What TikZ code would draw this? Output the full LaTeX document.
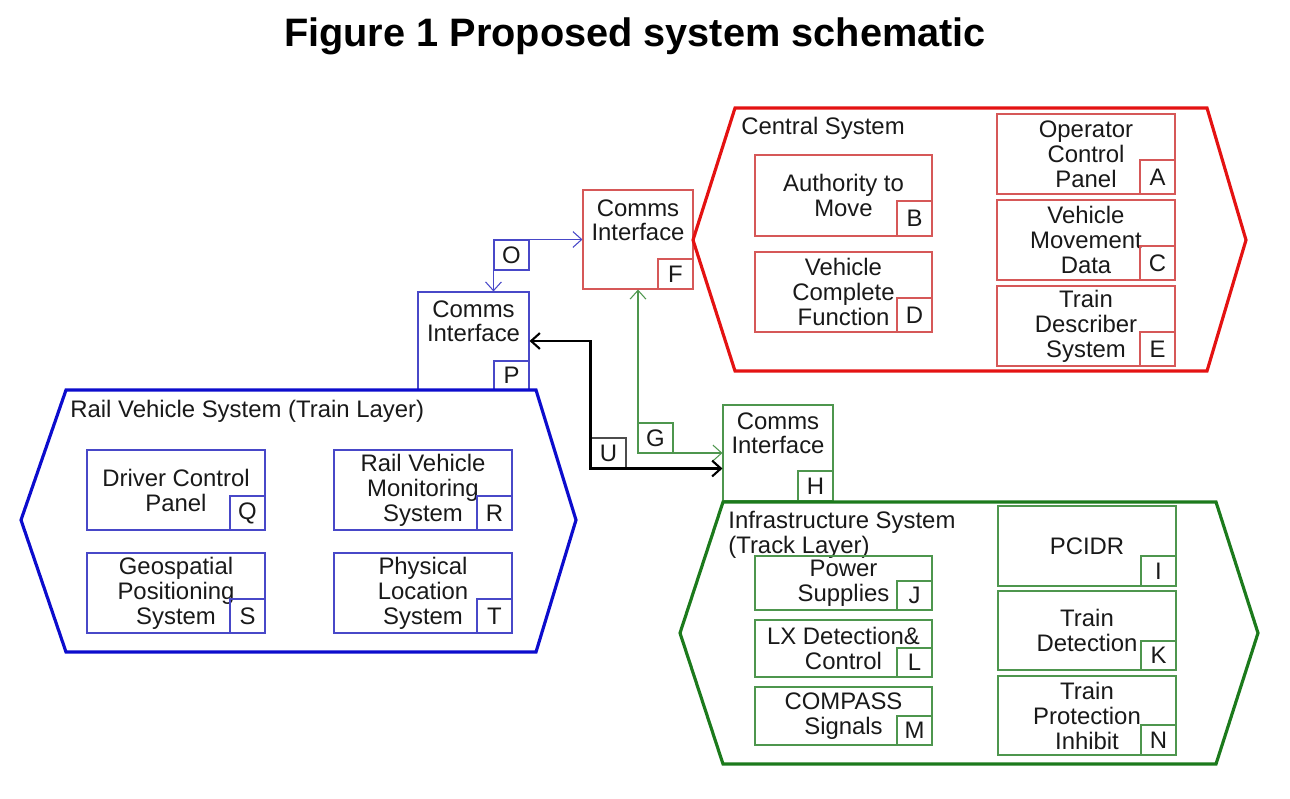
\documentclass[tikz,border=0pt]{standalone}
\usepackage{fontspec}
\setmainfont{Liberation Sans}
\usetikzlibrary{arrows.meta,fit}
\definecolor{txt}{RGB}{25,25,25}
\definecolor{redhex}{RGB}{228,18,18}
\definecolor{redbx}{RGB}{214,88,88}
\definecolor{bluehex}{RGB}{12,12,205}
\definecolor{bluebx}{RGB}{72,72,200}
\definecolor{greenhex}{RGB}{28,122,28}
\definecolor{greenbx}{RGB}{78,150,78}
\newcommand\bodyfont{\fontsize{13.6}{14.2}\selectfont}
\tikzset{
  bx/.style={draw, inner sep=0pt, line width=0.6pt},
  lbl/.style={font=\bodyfont, text=txt, inner sep=0pt, align=center},
  rbox/.style={bx, draw=redbx},
  bbox/.style={bx, draw=bluebx},
  gbox/.style={bx, draw=greenbx},
  hexred/.style={draw=redhex, line width=1.8pt, line join=miter},
  hexblue/.style={draw=bluehex, line width=1.8pt, line join=miter},
  hexgreen/.style={draw=greenhex, line width=1.8pt, line join=miter},
  ttl/.style={font=\bodyfont, text=txt, inner sep=0pt, align=left},
  commstext/.style={font=\bodyfont, text=txt, inner sep=0pt, align=center, anchor=north},
  tipc/.tip={Straight Barb[length=5pt,width=9pt]},
  conn/.style={line width=0.6pt, {tipc}-{tipc}},
}
\begin{document}
\begin{tikzpicture}[x=0.02cm,y=-0.02cm]
\useasboundingbox (0,0) rectangle (1290,798);

\node[font=\fontsize{22.6}{26}\selectfont\bfseries, text=black] (title) at (635,36) {Figure 1 Proposed system schematic};

% Comms interface boxes
\node[rbox, fit={(583,190)(693,289)}] (commsF) {};
\node[commstext] (tF) at (638,199) {Comms\\Interface};
\node[rbox, fit={(658,259)(693,289)}, label={[lbl]center:F}] (F) {};

\node[bbox, fit={(418,292)(529,390)}] (commsP) {};
\node[commstext] (tP) at (473.5,300) {Comms\\Interface};
\node[bbox, fit={(494,361)(529,390)}, label={[lbl]center:P}] (P) {};

\node[gbox, fit={(723,405)(833,501)}] (commsH) {};
\node[commstext] (tH) at (778,412) {Comms\\Interface};
\node[gbox, fit={(798,471)(833,501)}, label={[lbl]center:H}] (H) {};

% Hexagons
\draw[hexred] (693,240) -- (735,108) -- (1207,108) -- (1246,240) -- (1207,371) -- (735,371) -- cycle;
\draw[hexblue] (21,520) -- (66,390) -- (536,390) -- (576,520) -- (536,652) -- (66,652) -- cycle;
\draw[hexgreen] (680,633) -- (723,502) -- (1216,502) -- (1258,633) -- (1216,764) -- (723,764) -- cycle;

\node[ttl, anchor=west] (tCentral) at (741,128) {Central System};
\node[ttl, anchor=west] (tRail) at (70,411) {Rail Vehicle System (Train Layer)};
\node[ttl, anchor=north west] (tInfra) at (728,511) {Infrastructure System\\(Track Layer)};

% Central system
\node[rbox, fit={(755,155)(932,236)}, label={[lbl]center:{Authority to\\Move}}] (bB) {};
\node[rbox, fit={(897,201)(932,236)}, label={[lbl]center:B}] (B) {};
\node[rbox, fit={(755,252)(932,332)}, label={[lbl]center:{Vehicle\\Complete\\Function}}] (bD) {};
\node[rbox, fit={(897,298)(932,332)}, label={[lbl]center:D}] (D) {};
\node[rbox, fit={(997,114)(1175,194)}, label={[lbl]center:{Operator\\Control\\Panel}}] (bA) {};
\node[rbox, fit={(1140,160)(1175,194)}, label={[lbl]center:A}] (A) {};
\node[rbox, fit={(997,200)(1175,280)}, label={[lbl]center:{Vehicle\\Movement\\Data}}] (bC) {};
\node[rbox, fit={(1140,246)(1175,280)}, label={[lbl]center:C}] (C) {};
\node[rbox, fit={(997,286)(1175,366)}, label={[lbl]center:{Train\\Describer\\System}}] (bE) {};
\node[rbox, fit={(1140,332)(1175,366)}, label={[lbl]center:E}] (E) {};

% Rail vehicle system
\node[bbox, fit={(87,450)(265,530)}, label={[lbl]center:{Driver Control\\Panel}}] (bQ) {};
\node[bbox, fit={(230,496)(265,530)}, label={[lbl]center:Q}] (Q) {};
\node[bbox, fit={(334,450)(512,530)}, label={[lbl]center:{Rail Vehicle\\Monitoring\\System}}] (bR) {};
\node[bbox, fit={(477,496)(512,530)}, label={[lbl]center:R}] (R) {};
\node[bbox, fit={(87,553)(265,633)}, label={[lbl]center:{Geospatial\\Positioning\\System}}] (bS) {};
\node[bbox, fit={(230,599)(265,633)}, label={[lbl]center:S}] (S) {};
\node[bbox, fit={(334,553)(512,633)}, label={[lbl]center:{Physical\\Location\\System}}] (bT) {};
\node[bbox, fit={(477,599)(512,633)}, label={[lbl]center:T}] (T) {};

% Infrastructure system
\node[gbox, fit={(755,556)(932,610)}, label={[lbl]center:{Power\\Supplies}}] (bJ) {};
\node[gbox, fit={(897,581)(932,610)}, label={[lbl]center:J}] (J) {};
\node[gbox, fit={(755,620)(932,677)}, label={[lbl]center:{LX Detection\&\\Control}}] (bL) {};
\node[gbox, fit={(897,648)(932,677)}, label={[lbl]center:L}] (L) {};
\node[gbox, fit={(755,687)(932,745)}, label={[lbl]center:{COMPASS\\Signals}}] (bM) {};
\node[gbox, fit={(897,716)(932,745)}, label={[lbl]center:M}] (M) {};
\node[gbox, fit={(998,506)(1176,586)}, label={[lbl]center:PCIDR}] (bI) {};
\node[gbox, fit={(1141,556)(1176,586)}, label={[lbl]center:I}] (I) {};
\node[gbox, fit={(998,591)(1176,670)}, label={[lbl]center:{Train\\Detection}}] (bK) {};
\node[gbox, fit={(1141,641)(1176,670)}, label={[lbl]center:K}] (K) {};
\node[gbox, fit={(998,676)(1176,755)}, label={[lbl]center:{Train\\Protection\\Inhibit}}] (bN) {};
\node[gbox, fit={(1141,725)(1176,755)}, label={[lbl]center:N}] (N) {};

% Connector label boxes
\node[bbox, fit={(494,240)(529,270)}, label={[lbl]center:O}] (O) {};
\node[gbox, fit={(638,423)(673,453)}, label={[lbl]center:G}] (G) {};
\node[bx, draw=black!70, fit={(591,438)(626,468)}, label={[lbl]center:U}] (U) {};

% Connectors
\draw[conn, draw=bluebx] (P.west |- commsP.north) |- (commsF.west);
\draw[conn, draw=greenbx] (commsF.south) |- (commsH.west);
\draw[conn, draw=black, line width=1.2pt] (commsP.east) -| (U.south west) -- (U.south west -| commsH.west);
\end{tikzpicture}
\end{document}
